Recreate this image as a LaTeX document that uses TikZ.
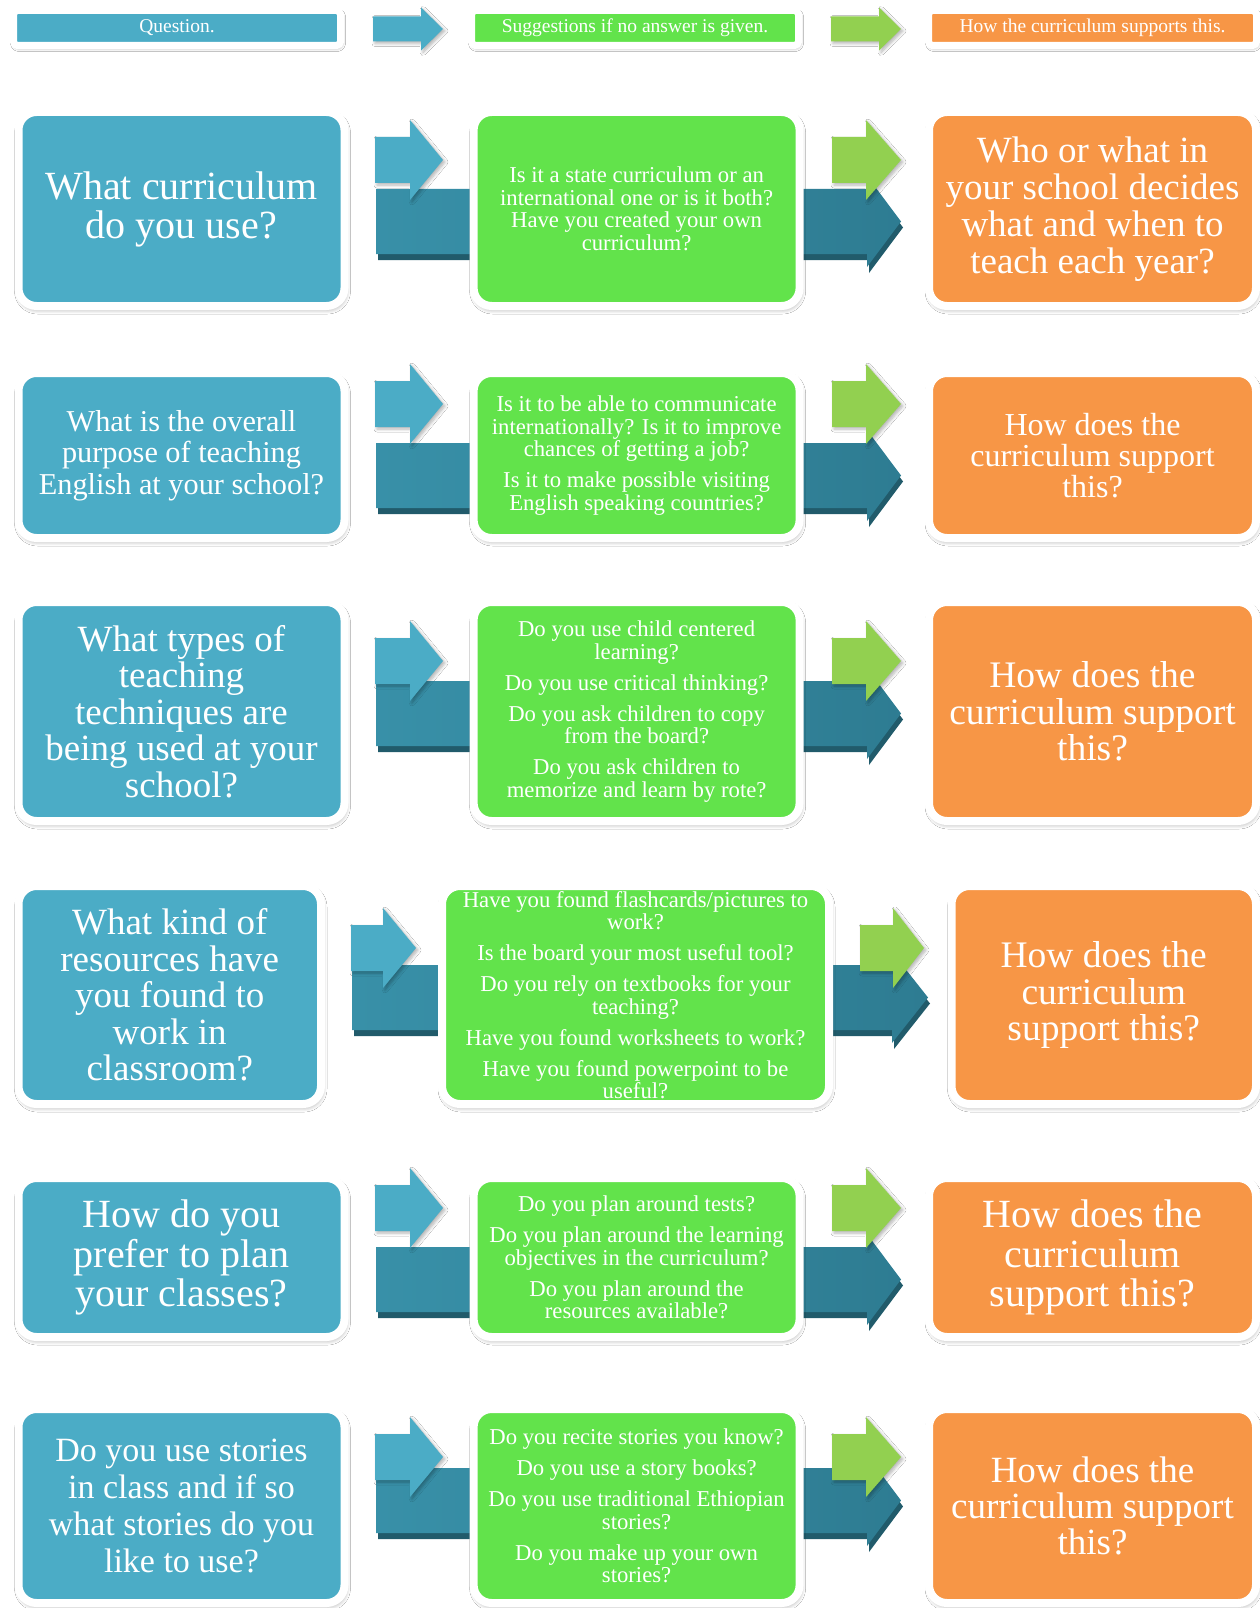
\documentclass[tikz,border=0pt]{standalone}
\usepackage{fontspec}
\setmainfont{Liberation Serif}
\usepackage{tikz}
\usetikzlibrary{shadows.blur}
\definecolor{questionblue}{HTML}{4BACC6}
\definecolor{suggestgreen}{HTML}{62E34B}
\definecolor{supportorange}{HTML}{F79646}
\definecolor{tabgreen}{HTML}{92D050}
\definecolor{teallight}{HTML}{3890A8}
\definecolor{tealmid}{HTML}{2E7C92}
\definecolor{tealdark}{HTML}{215B6B}
\newcommand{\cardfont}[2]{\fontsize{#1}{#2}\selectfont}
% long teal band: x start, x of head, x of tip, top of body
\newcommand{\tealarrow}[4]{%
  \fill[tealdark, shift={(2,6)}] (#1,#4) -- (#2,#4) -- (#2,#4-13) -- (#3,#4+32.5) -- (#2,#4+78) -- (#2,#4+65) -- (#1,#4+65) -- cycle;
  \shade[tealband] (#1,#4) -- (#2,#4) -- (#2,#4-13) -- (#3,#4+32.5) -- (#2,#4+78) -- (#2,#4+65) -- (#1,#4+65) -- cycle;
}
% short arrow: colour, x start, x of head, x of tip, y of tip, half body, half head
\newcommand{\tabarrow}[7]{%
  \fill[#1, tabshadow] (#2,#5-#6) -- (#3,#5-#6) -- (#3,#5-#7) -- (#4,#5) -- (#3,#5+#7) -- (#3,#5+#6) -- (#2,#5+#6) -- cycle;
}
\tikzset{
  card/.style={draw=white, line width=8pt, rounded corners=18pt, text=white, align=center, inner sep=0pt,
    blur shadow={shadow xshift=1pt, shadow yshift=-3pt, shadow blur radius=5pt, shadow opacity=40, shadow blur steps=10}},
  questioncard/.style={card, fill=questionblue},
  suggestcard/.style={card, fill=suggestgreen, font=\cardfont{22.7}{22.5}},
  supportcard/.style={card, fill=supportorange},
  headcard/.style={draw=white, line width=7pt, rounded corners=4pt, text=white, align=center, inner sep=0pt,
    minimum height=35pt, font=\cardfont{19.5}{22},
    blur shadow={shadow xshift=1pt, shadow yshift=-2pt, shadow blur radius=4pt, shadow opacity=40, shadow blur steps=8}},
  tealband/.style={left color=teallight, right color=tealmid},
  tabshadow/.style={blur shadow={shadow xshift=2pt, shadow yshift=-2pt, shadow blur radius=3pt, shadow opacity=30, shadow blur steps=6}}
}

\begin{document}
\begin{tikzpicture}[x=1pt, y=-1pt]
  \fill[white] (0,0) rectangle (1260,1608);
  \useasboundingbox (0,0) rectangle (1260,1608);
  % key
  \node[headcard, fill=questionblue, minimum width=327pt] (keyq) at (177,28) {Question.};
  \node[headcard, fill=suggestgreen, minimum width=327pt] (keys) at (635,28) {Suggestions if no answer is given.};
  \node[headcard, fill=supportorange, minimum width=328pt] (keyc) at (1092.5,28) {How the curriculum supports this.};
  \tabarrow{questionblue}{373}{421}{443}{29}{12.5}{21.5}
  \tabarrow{tabgreen}{831}{879}{901}{29}{12.5}{21.5}
  % row 1
  \tealarrow{376}{867}{901}{189}
  \node[questioncard, minimum width=326pt, minimum height=194pt, font=\cardfont{40}{39}] (q1) at (181.5,209) {What curriculum\\do you use?};
  \node[suggestcard, minimum width=326pt, minimum height=194pt] (s1) at (636.6,209) {Is it a state curriculum or an\\international one or is it both?\\Have you created your own\\curriculum?};
  \node[supportcard, minimum width=327pt, minimum height=194pt, font=\cardfont{37}{37}] (c1) at (1092.5,209) {Who or what in\\your school decides\\what and when to\\teach each year?};
  \tabarrow{questionblue}{375}{410}{443}{160}{23}{40}
  \tabarrow{tabgreen}{832}{866}{901}{160}{23}{40}
  % row 2
  \tealarrow{376}{867}{901}{443}
  \node[questioncard, minimum width=326pt, minimum height=165pt, font=\cardfont{30.3}{31.3}] (q2) at (181.5,455.5) {What is the overall\\purpose of teaching\\English at your school?};
  \node[suggestcard, minimum width=326pt, minimum height=165pt] (s2) at (636.6,455.5) {Is it to be able to communicate\\internationally? Is it to improve\\chances of getting a job?\\[8.5pt]Is it to make possible visiting\\English speaking countries?};
  \node[supportcard, minimum width=327pt, minimum height=165pt, font=\cardfont{32}{31}] (c2) at (1092.5,455.5) {How does the\\curriculum support\\this?};
  \tabarrow{questionblue}{375}{410}{443}{404}{23}{40}
  \tabarrow{tabgreen}{832}{866}{901}{404}{23}{40}
  % row 3
  \tealarrow{376}{867}{901}{681}
  \node[questioncard, minimum width=326pt, minimum height=219pt, font=\cardfont{37}{36.4}] (q3) at (181.5,711.5) {What types of\\teaching\\techniques are\\being used at your\\school?};
  \node[suggestcard, minimum width=326pt, minimum height=219pt] (s3) at (636.6,711.5) {Do you use child centered\\learning?\\[8.5pt]Do you use critical thinking?\\[8.5pt]Do you ask children to copy\\from the board?\\[8.5pt]Do you ask children to\\memorize and learn by rote?};
  \node[supportcard, minimum width=327pt, minimum height=219pt, font=\cardfont{37.5}{36.4}] (c3) at (1092.5,711.5) {How does the\\curriculum support\\this?};
  \tabarrow{questionblue}{375}{410}{443}{661}{23}{40}
  \tabarrow{tabgreen}{832}{866}{901}{661}{23}{40}
  % row 4
  \tealarrow{352}{892}{928}{965}
  \node[questioncard, minimum width=302.5pt, minimum height=218pt, font=\cardfont{37}{36.6}] (q4) at (169.75,995) {What kind of\\resources have\\you found to\\work in\\classroom?};
  \node[suggestcard, minimum width=387pt, minimum height=218pt] (s4) at (635.5,995) {Have you found flashcards/pictures to\\work?\\[8.5pt]Is the board your most useful tool?\\[8.5pt]Do you rely on textbooks for your\\teaching?\\[8.5pt]Have you found worksheets to work?\\[8.5pt]Have you found powerpoint to be\\useful?};
  \node[supportcard, minimum width=304.5pt, minimum height=218pt, font=\cardfont{37.5}{36.4}] (c4) at (1103.75,995) {How does the\\curriculum\\support this?};
  \tabarrow{questionblue}{351}{383}{416}{948}{23}{40}
  \tabarrow{tabgreen}{860}{893}{924}{948}{23}{40}
  % row 5
  \tealarrow{376}{867}{901}{1247}
  \node[questioncard, minimum width=326pt, minimum height=159pt, font=\cardfont{40}{39.5}] (q5) at (181.5,1257.5) {How do you\\prefer to plan\\your classes?};
  \node[suggestcard, minimum width=326pt, minimum height=159pt] (s5) at (636.6,1257.5) {Do you plan around tests?\\[8.5pt]Do you plan around the learning\\objectives in the curriculum?\\[8.5pt]Do you plan around the\\resources available?};
  \node[supportcard, minimum width=327pt, minimum height=159pt, font=\cardfont{40}{39.5}] (c5) at (1092.5,1257.5) {How does the\\curriculum\\support this?};
  \tabarrow{questionblue}{375}{410}{443}{1208}{23}{40}
  \tabarrow{tabgreen}{832}{866}{901}{1208}{23}{40}
  % row 6
  \tealarrow{376}{867}{901}{1468}
  \node[questioncard, minimum width=326pt, minimum height=194pt, font=\cardfont{34}{37}] (q6) at (181.5,1506) {Do you use stories\\in class and if so\\what stories do you\\like to use?};
  \node[suggestcard, minimum width=326pt, minimum height=194pt] (s6) at (636.6,1506) {Do you recite stories you know?\\[8.5pt]Do you use a story books?\\[8.5pt]Do you use traditional Ethiopian\\stories?\\[8.5pt]Do you make up your own\\stories?};
  \node[supportcard, minimum width=327pt, minimum height=194pt, font=\cardfont{37}{36}] (c6) at (1092.5,1506) {How does the\\curriculum support\\this?};
  \tabarrow{questionblue}{375}{410}{443}{1457}{23}{40}
  \tabarrow{tabgreen}{832}{866}{901}{1457}{23}{40}
\end{tikzpicture}
\end{document}
